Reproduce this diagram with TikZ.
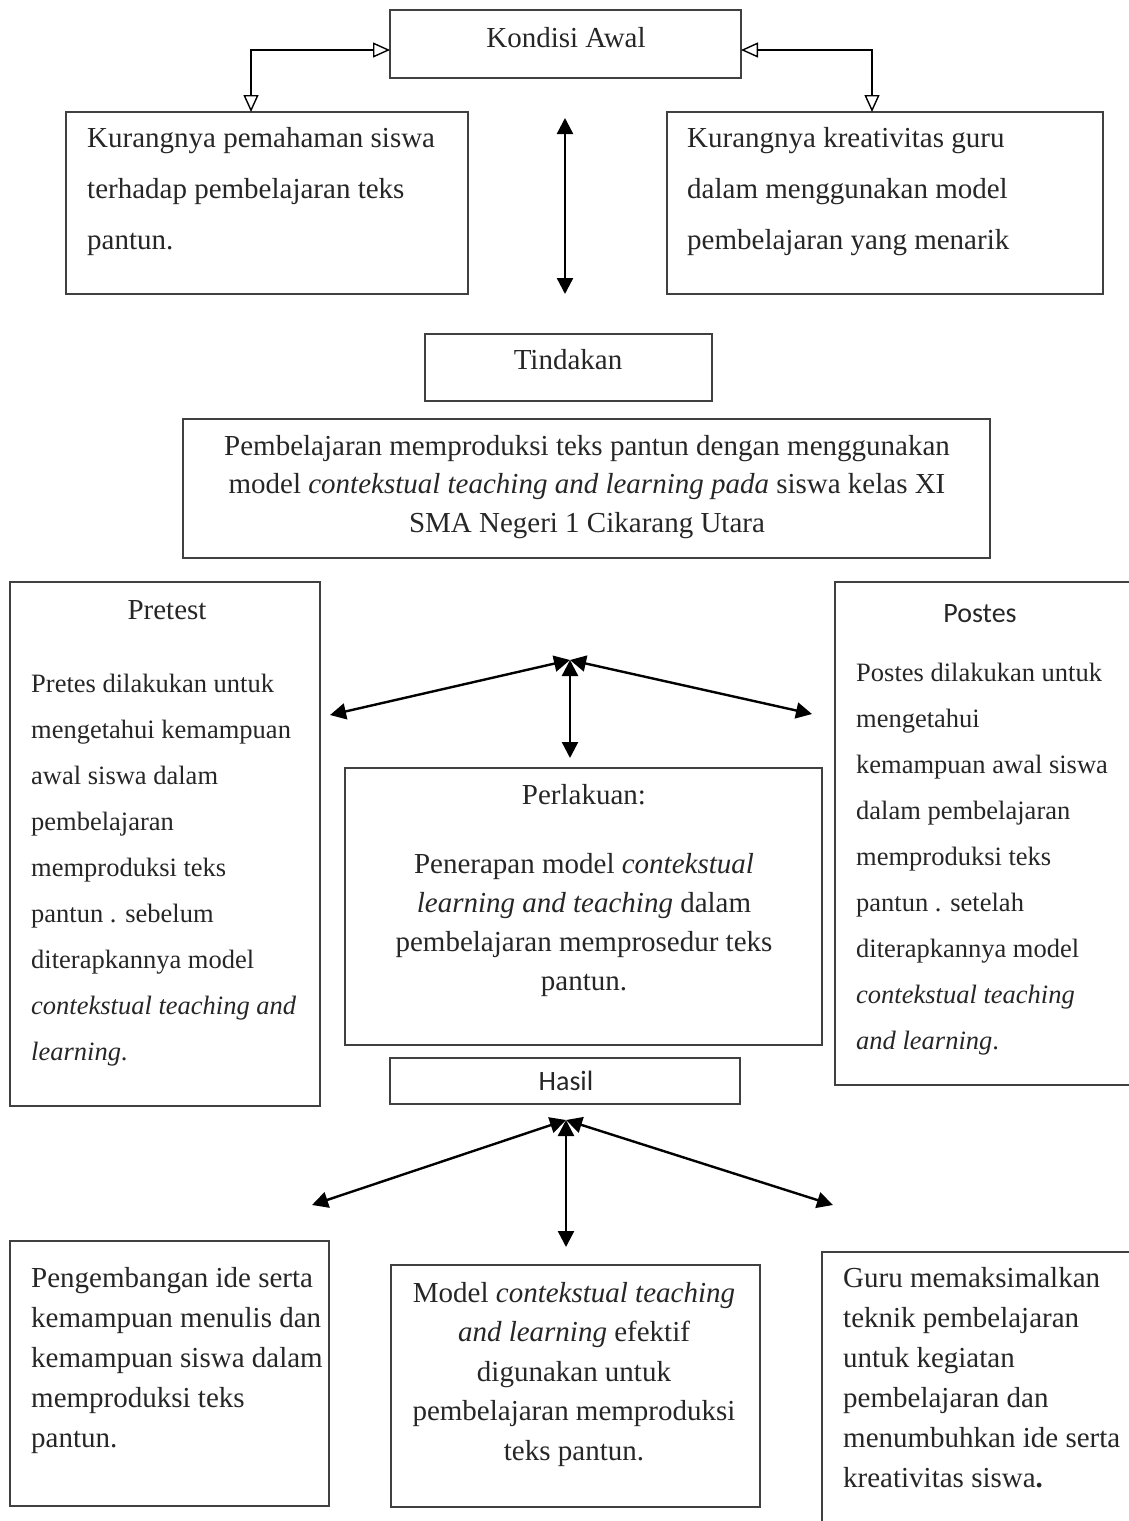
\documentclass[tikz,border=0pt]{standalone}
\usepackage{fontspec}
\setmainfont{Liberation Serif}
\newfontfamily\calibri{Carlito}
\usetikzlibrary{arrows.meta}

\tikzset{
  area/.style={inner sep=0pt, outer sep=0pt},
  box/.style={area, draw=black!75, line width=1.2pt},
  edge/.style={draw=black!75, line width=1.2pt},
  txt/.style={inner sep=0pt, text=black!85, font=\fontsize{29}{51}\selectfont, align=left, anchor=north west},
  title/.style={inner sep=0pt, text=black!85, font=\fontsize{29}{35}\selectfont, anchor=base},
  sym/.style={line width=2.4pt, {Triangle[length=16pt,width=16pt]}-{Triangle[length=16pt,width=16pt]}},
  hollow/.style={line width=1.4pt, {Triangle[open,length=17pt,width=15pt]}-{Triangle[open,length=17pt,width=15pt]}},
}

\begin{document}
\begin{tikzpicture}[x=1pt,y=1pt]
\useasboundingbox (0,-1521) rectangle (1129,0);

% kondisi awal
\node[box, minimum width=351pt, minimum height=68pt] (awal) at (565.5,-44) {};
\node[title] (awaltxt) at (566,-47) {Kondisi Awal};
\node[box, minimum width=402pt, minimum height=182pt] (siswa) at (267,-203) {};
\node[txt] (siswatxt) at (87,-127) {Kurangnya pemahaman siswa\\terhadap pembelajaran teks\\pantun.};
\node[box, minimum width=436pt, minimum height=182pt] (guru) at (885,-203) {};
\node[txt] (gurutxt) at (687,-127) {Kurangnya kreativitas guru\\dalam menggunakan model\\pembelajaran yang menarik};
\draw[hollow] (siswa.north -| 251,0) |- ([yshift=-6pt]awal.west);
\draw[hollow] (guru.north -| 872,0) |- ([yshift=-6pt]awal.east);
\coordinate (top1) at (565,-118);
\coordinate (top2) at (565,-294);
\draw[sym] (top1) -- (top2);

% tindakan
\node[box, minimum width=287pt, minimum height=67pt] (tindakan) at (568.5,-367.5) {};
\node[title] (tindakantxt) at (568,-369) {Tindakan};
\node[box, minimum width=807pt, minimum height=139pt] (ctl) at (586.5,-488.5) {};
\node[txt, align=center, anchor=north, font=\fontsize{29}{38.5}\selectfont] (ctltxt) at (587,-435)
  {Pembelajaran memproduksi teks pantun dengan menggunakan\\model \textit{contekstual teaching and learning pada} siswa kelas XI\\SMA Negeri 1 Cikarang Utara};

% pretest, perlakuan, postes
\node[box, minimum width=310pt, minimum height=524pt] (pretest) at (165,-844) {};
\node[title] (pretesttxt) at (167,-619) {Pretest};
\node[txt, font=\fontsize{26.5}{46}\selectfont] (pretestisi) at (31,-674)
  {Pretes dilakukan untuk\\mengetahui kemampuan\\awal siswa dalam\\pembelajaran\\memproduksi teks\\pantun . sebelum\\diterapkannya model\\\textit{contekstual teaching and}\\\textit{learning}.};
\node[area, minimum width=294pt, minimum height=503pt] (postes) at (982,-833.5) {};
\draw[edge] (postes.north east) -| (postes.south west) -- (postes.south east);
\node[title, font=\calibri\fontsize{28}{34}\selectfont] (postestxt) at (980,-622) {Postes};
\node[txt, font=\fontsize{26.5}{46}\selectfont] (postesisi) at (856,-663)
  {Postes dilakukan untuk\\mengetahui\\kemampuan awal siswa\\dalam pembelajaran\\memproduksi teks\\pantun . setelah\\diterapkannya model\\\textit{contekstual teaching}\\\textit{and learning}.};
\node[box, minimum width=477pt, minimum height=277pt] (perlakuan) at (583.5,-906.5) {};
\node[title] (perlakuantxt) at (584,-804) {Perlakuan:};
\node[txt, align=center, anchor=north, font=\fontsize{29}{39}\selectfont] (perlakuanisi) at (584,-853)
  {Penerapan model \textit{contekstual}\\\textit{learning and teaching} dalam\\pembelajaran memprosedur teks\\pantun.};
\coordinate (hub1) at (570,-660);
\coordinate (pre) at (330,-715);
\coordinate (post) at (812,-714);
\coordinate (treat) at (570,-758);
\draw[sym] (hub1) -- (pre);
\draw[sym] (hub1) -- (post);
\draw[sym] (hub1) -- (treat);

% hasil
\node[box, minimum width=350pt, minimum height=46pt] (hasil) at (565,-1081) {};
\node[title, font=\calibri\fontsize{28}{34}\selectfont] (hasiltxt) at (566,-1090) {Hasil};
\coordinate (hub2) at (566,-1120);
\coordinate (res1) at (312,-1205);
\coordinate (res2) at (833,-1205);
\coordinate (res3) at (566,-1247);
\draw[sym] (hub2) -- (res1);
\draw[sym] (hub2) -- (res2);
\draw[sym] (hub2) -- (res3);

\node[box, minimum width=319pt, minimum height=265pt] (ide) at (169.5,-1373.5) {};
\node[txt, font=\fontsize{29}{40}\selectfont] (idetxt) at (31,-1267)
  {Pengembangan ide serta\\kemampuan menulis dan\\kemampuan siswa dalam\\memproduksi teks\\pantun.};
\node[box, minimum width=369pt, minimum height=242pt] (efektif) at (575.5,-1386) {};
\node[txt, align=center, anchor=north, font=\fontsize{29}{39.5}\selectfont] (efektiftxt) at (574,-1282)
  {Model \textit{contekstual teaching}\\\textit{and learning} efektif\\digunakan untuk\\pembelajaran memproduksi\\teks pantun.};
\node[area, minimum width=307pt, minimum height=269pt] (teknik) at (975.5,-1386.5) {};
\draw[edge] (teknik.south west) |- (teknik.north east);
\node[txt, font=\fontsize{29}{40}\selectfont] (tekniktxt) at (843,-1267)
  {Guru memaksimalkan\\teknik pembelajaran\\untuk kegiatan\\pembelajaran dan\\menumbuhkan ide serta\\kreativitas siswa\textbf{.}};
\end{tikzpicture}
\end{document}
